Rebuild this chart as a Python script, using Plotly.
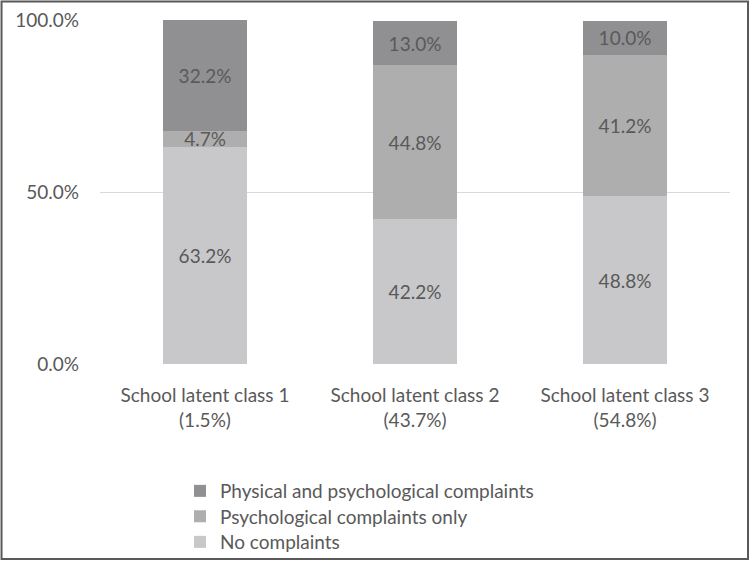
import plotly.graph_objects as go

categories = ["School latent class 1<br>(1.5%)", "School latent class 2<br>(43.7%)", "School latent class 3<br>(54.8%)"]
series_names = ["No complaints", "Psychological complaints only", "Physical and psychological complaints"]
no_complaints = [63.2, 42.2, 48.8]
psych_only = [4.7, 44.8, 41.2]
phys_psych = [32.2, 13.0, 10.0]
tick_values = [0, 50, 100]
tick_labels = ["0.0%", "50.0%", "100.0%"]

colors = ["#c8c8ca", "#aeaeaf", "#909093"]
legend_ids = ["legend3", "legend2", "legend"]
legend_y = {"legend": -0.3140, "legend2": -0.3881, "legend3": -0.4622}
txt = "#595959"
FONT = "Lato"
FS = 19

fig = go.Figure()
for name, vals, col, lg in zip(series_names, [no_complaints, psych_only, phys_psych], colors, legend_ids):
    fig.add_trace(go.Bar(
        x=categories, y=vals, name=name, marker=dict(color=col, line=dict(width=0)),
        text=[f"{v:.1f}%" for v in vals], textposition="inside", insidetextanchor="middle",
        textfont=dict(color=txt, size=FS, family=FONT), cliponaxis=False, width=0.4,
        legend=lg,
    ))

legend_common = dict(orientation="v", x=0.127, xanchor="left", yanchor="top",
                     font=dict(size=FS, color=txt, family=FONT), itemwidth=30,
                     bgcolor="rgba(0,0,0,0)", borderwidth=0)

fig.update_layout(
    barmode="stack", width=752, height=562,
    margin=dict(l=100, r=22, t=20, b=198, autoexpand=False),
    paper_bgcolor="white", plot_bgcolor="white",
    font=dict(family=FONT, color=txt, size=FS),
    uniformtext=dict(minsize=FS, mode="show"),
    showlegend=True,
    legend=dict(y=legend_y["legend"], **legend_common),
    legend2=dict(y=legend_y["legend2"], **legend_common),
    legend3=dict(y=legend_y["legend3"], **legend_common),
    xaxis=dict(showgrid=False, showline=False, ticks="", tickfont=dict(size=FS, color=txt),
               ticklabelstandoff=18),
    yaxis=dict(range=[0, 100.2], tickvals=tick_values, ticktext=tick_labels, showgrid=True,
               gridcolor="#d9d9d9", gridwidth=1, zeroline=False, showline=False, ticks="",
               ticklen=0, tickfont=dict(size=FS, color=txt), ticklabelstandoff=20),
    shapes=[dict(type="rect", xref="paper", yref="paper", x0=-0.1563, x1=1.0286, y0=-0.5669, y1=1.0538,
                 line=dict(color="#595959", width=2), fillcolor="rgba(0,0,0,0)", layer="above")],
)
fig.write_html("out.html", post_script="document.body.style.margin='0';",
               config={"displayModeBar": False})
